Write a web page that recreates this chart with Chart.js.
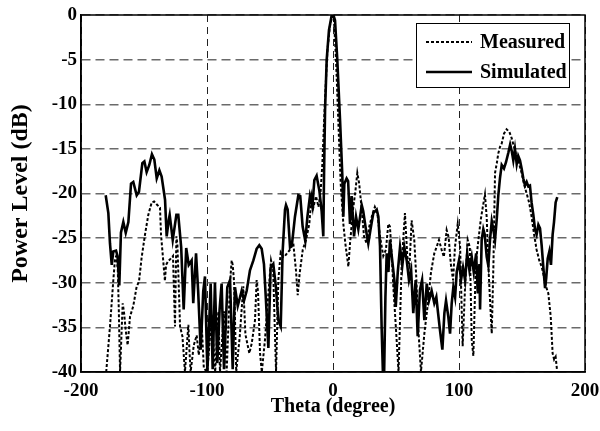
<!DOCTYPE html>
<html lang="en">
<head>
<meta charset="utf-8">
<title>Radiation pattern</title>
<script src="https://cdn.jsdelivr.net/npm/chart.js@4.4.0/dist/chart.umd.min.js"></script>
<style>
    html, body { margin: 0; padding: 0; background: #fff; }
    #chart { display: block; }
</style>
</head>
<body>
<canvas id="chart" width="600" height="431"></canvas>
<script>
// Simulated pattern (solid)
const simTheta = [
    -180.4, -178.3, -177.0, -175.6, -174.4, -172.2, -171.0, -169.6, -168.3, -166.4,
    -164.5, -162.4, -160.3, -158.5, -155.8, -154.0, -151.3, -149.7, -147.9, -145.8,
    -143.7, -141.8, -139.9, -137.8, -136.0, -133.3, -132.0, -130.4, -129.6, -127.2,
    -124.3, -122.8, -120.5, -118.5, -116.5, -114.5, -112.2, -110.9, -108.7, -107.0,
    -105.0, -103.0, -101.6, -99.7, -97.1, -95.5, -93.7, -91.8, -90.0, -88.4,
    -86.5, -83.9, -81.7, -79.6, -77.8, -75.6, -72.5, -70.6, -68.5, -65.9,
    -63.2, -60.6, -58.5, -56.6, -54.8, -53.2, -51.3, -49.5, -47.4, -45.3,
    -43.4, -41.5, -40.0, -38.1, -37.3, -36.0, -34.1, -32.5, -30.2, -27.5,
    -26.0, -24.1, -22.0, -20.3, -18.3, -16.4, -14.8, -13.0, -10.8, -9.0,
    -7.7, -7.1, -6.3, -5.0, -3.2, -1.0, 0.3, 1.6, 3.4, 5.6,
    7.4, 8.2, 9.0, 10.8, 12.0, 13.5, 14.8, 16.7, 18.3, 20.1,
    22.8, 24.0, 26.2, 28.0, 29.8, 32.0, 34.7, 36.0, 37.3, 38.6,
    39.6, 40.6, 41.6, 42.6, 44.0, 45.2, 47.0, 48.7, 49.8, 51.4,
    53.2, 55.0, 56.6, 58.5, 60.3, 62.0, 63.7, 65.6, 67.2, 69.0,
    70.7, 72.5, 74.4, 76.2, 78.3, 80.4, 82.0, 83.4, 84.9, 86.8,
    88.4, 89.7, 91.5, 92.9, 94.2, 95.5, 96.9, 98.2, 100.0, 101.6,
    103.2, 104.8, 106.5, 108.3, 110.1, 111.7, 113.6, 114.9, 116.2, 116.7,
    118.0, 119.3, 120.4, 122.0, 123.3, 124.6, 126.0, 127.3, 128.6, 130.0,
    131.2, 132.5, 133.9, 135.7, 137.3, 139.2, 140.6, 141.8, 143.1, 144.4,
    145.8, 147.0, 148.4, 149.7, 151.0, 152.4, 153.7, 155.0, 156.3, 157.6,
    159.0, 160.3, 161.6, 163.0, 164.3, 165.6, 167.0, 168.3, 169.2, 170.4,
    171.7, 173.0, 174.3, 175.4, 176.7, 178.0
];
const simDb = [
    -20.2, -22.2, -25.6, -28.0, -26.5, -26.4, -27.0, -30.3, -24.4, -23.2,
    -24.4, -23.2, -18.9, -18.7, -20.2, -19.8, -16.6, -16.4, -17.6, -16.8,
    -15.6, -16.2, -18.3, -17.4, -18.1, -20.7, -24.8, -23.0, -22.4, -25.2,
    -22.4, -22.4, -26.0, -33.0, -26.1, -28.0, -27.5, -32.3, -26.7, -31.0,
    -37.5, -31.0, -29.3, -40.0, -30.1, -39.7, -30.0, -39.0, -33.0, -30.1,
    -39.7, -30.5, -29.7, -39.7, -30.5, -32.6, -30.9, -32.0, -30.9, -28.6,
    -27.5, -26.2, -25.8, -26.2, -27.9, -32.0, -37.3, -28.3, -27.9, -30.5,
    -34.2, -34.9, -26.6, -21.8, -21.3, -21.8, -26.0, -25.6, -22.6, -20.2,
    -20.3, -23.7, -25.3, -22.6, -20.3, -21.5, -18.5, -18.0, -19.7, -22.0,
    -24.8, -17.8, -10.6, -5.0, -1.7, 0.0, 0.0, -0.6, -5.0, -11.8,
    -18.0, -22.6, -18.9, -18.3, -18.6, -23.4, -20.3, -24.8, -22.6, -24.0,
    -21.3, -22.0, -24.1, -25.6, -24.0, -22.2, -21.8, -22.6, -25.9, -35.0,
    -40.0, -40.0, -31.6, -26.7, -28.8, -25.2, -27.5, -29.7, -32.7, -28.8,
    -26.0, -28.1, -26.0, -27.5, -29.7, -28.6, -33.4, -29.7, -36.0, -30.8,
    -29.7, -34.2, -30.1, -32.0, -30.9, -32.3, -31.6, -33.4, -35.3, -37.5,
    -33.4, -32.0, -33.8, -35.7, -32.3, -30.5, -31.6, -28.8, -27.5, -29.7,
    -28.3, -29.7, -26.7, -28.6, -27.1, -28.8, -26.7, -31.2, -27.9, -33.0,
    -25.2, -24.0, -24.6, -27.1, -28.1, -25.2, -23.1, -24.1, -25.2, -22.8,
    -20.2, -18.3, -16.8, -17.2, -16.5, -15.4, -14.5, -15.2, -16.3, -15.0,
    -16.7, -15.8, -16.3, -17.2, -18.3, -19.1, -18.7, -19.2, -19.1, -21.0,
    -22.4, -24.0, -24.6, -23.5, -23.9, -25.8, -28.4, -30.6, -29.5, -27.3,
    -26.5, -28.0, -24.6, -23.2, -21.0, -20.4
];

// Measured pattern (dotted)
const measTheta = [
    -180.0, -177.0, -174.4, -173.0, -172.0, -170.8, -170.0, -169.0, -166.9, -165.8,
    -164.6, -163.0, -161.1, -158.5, -155.8, -154.0, -151.9, -149.2, -146.6, -143.9,
    -142.0, -140.0, -137.3, -136.5, -134.7, -133.4, -132.5, -130.9, -128.8, -127.0,
    -125.4, -124.3, -123.5, -122.5, -121.4, -119.5, -117.5, -114.8, -114.0, -113.0,
    -110.5, -108.2, -106.5, -104.2, -102.5, -99.8, -96.3, -93.5, -91.0, -89.7,
    -86.5, -84.4, -81.7, -80.4, -79.6, -78.5, -76.8, -74.0, -71.2, -69.5,
    -66.4, -64.5, -61.9, -60.6, -59.5, -57.9, -56.5, -54.0, -51.3, -49.2,
    -47.5, -45.2, -43.4, -41.5, -39.4, -38.1, -36.5, -34.1, -31.5, -29.4,
    -28.0, -26.5, -24.0, -21.4, -18.8, -17.0, -15.5, -13.5, -11.5, -9.8,
    -8.5, -6.5, -4.5, -2.4, -0.6, 0.8, 2.4, 4.2, 6.1, 8.2,
    9.8, 12.2, 13.5, 15.9, 17.8, 19.3, 20.8, 22.8, 24.6, 26.7,
    28.8, 31.5, 33.2, 35.2, 37.3, 39.9, 42.0, 43.9, 45.2, 47.0,
    47.9, 49.2, 50.5, 52.0, 54.5, 57.1, 59.0, 60.7, 62.4, 64.5,
    66.2, 67.5, 69.8, 72.5, 75.0, 77.8, 80.4, 82.2, 84.1, 86.2,
    88.0, 90.2, 91.8, 93.5, 95.3, 96.8, 99.0, 100.9, 102.2, 102.9,
    104.8, 106.9, 108.6, 110.1, 111.4, 113.3, 115.4, 117.2, 118.9, 120.6,
    122.0, 123.3, 124.6, 126.0, 127.3, 128.6, 130.0, 131.2, 132.5, 133.9,
    135.7, 137.8, 140.0, 141.8, 143.7, 145.8, 147.6, 149.7, 151.5, 153.7,
    155.8, 157.6, 159.5, 161.6, 163.7, 165.6, 167.4, 169.0, 170.9, 172.8,
    174.3, 175.5, 176.7, 177.8
];
const measDb = [
    -40.0, -34.9, -29.8, -27.3, -27.0, -28.5, -33.0, -40.0, -32.3, -33.4,
    -35.2, -37.0, -33.8, -32.6, -30.4, -29.9, -27.2, -24.6, -22.4, -21.0,
    -20.9, -21.2, -21.6, -24.6, -27.6, -29.8, -28.0, -27.6, -27.3, -27.0,
    -34.9, -24.8, -25.7, -30.0, -34.9, -36.0, -40.0, -34.7, -37.4, -40.0,
    -37.0, -35.9, -38.1, -34.7, -39.6, -40.0, -33.6, -40.0, -33.2, -40.0,
    -33.2, -40.0, -29.9, -27.5, -28.0, -29.9, -40.0, -36.0, -30.4, -35.8,
    -37.9, -36.8, -34.2, -29.7, -31.0, -37.9, -40.0, -36.4, -31.2, -27.5,
    -28.6, -40.0, -29.7, -26.6, -27.1, -27.0, -26.7, -26.3, -25.6, -28.6,
    -31.4, -29.0, -26.3, -25.2, -23.4, -20.3, -21.5, -20.3, -21.5, -19.7,
    -16.8, -10.0, -4.1, -1.2, -0.1, -0.6, -5.0, -11.8, -18.9, -23.4,
    -25.6, -28.2, -25.6, -21.8, -19.7, -17.7, -18.9, -21.8, -24.8, -25.6,
    -23.7, -22.2, -21.5, -22.2, -24.8, -27.0, -26.3, -23.4, -23.7, -28.0,
    -30.5, -33.4, -36.4, -40.0, -27.9, -22.2, -27.1, -28.1, -23.0, -25.2,
    -29.7, -34.6, -40.0, -35.7, -32.7, -28.8, -26.7, -26.0, -25.2, -26.3,
    -27.1, -24.1, -24.9, -27.9, -29.7, -26.0, -23.4, -26.0, -33.4, -37.1,
    -30.5, -25.2, -26.0, -36.4, -38.2, -27.9, -25.2, -23.0, -21.5, -20.1,
    -22.7, -28.1, -31.9, -35.7, -28.1, -17.7, -16.6, -15.5, -14.8, -14.4,
    -13.3, -12.8, -13.1, -13.8, -14.8, -15.9, -16.6, -17.7, -18.9, -20.0,
    -21.1, -22.6, -24.5, -26.3, -27.5, -28.2, -29.3, -30.4, -31.2, -33.8,
    -37.9, -38.6, -38.3, -39.8
];

const xTicks = [-200, -100, 0, 100, 200];
const yTicks = [-40, -35, -30, -25, -20, -15, -10, -5, 0];

const FONT = { family: '"Liberation Serif", "Times New Roman", serif', size: 19, weight: 'bold' };

function toPoints(xs, ys) {
    return xs.map((x, i) => ({ x: x, y: ys[i] }));
}

// frame around the plot area plus the boxed legend in the top right corner
const framePlugin = {
    id: 'frame',
    afterDraw(chart) {
        const { ctx, chartArea: a } = chart;
        ctx.save();
        ctx.strokeStyle = '#000';
        ctx.lineWidth = 1.5;
        ctx.setLineDash([]);
        ctx.strokeRect(a.left, a.top, a.right - a.left, a.bottom - a.top);

        // legend box
        const bx = a.right - 169, by = a.top + 8, bw = 153, bh = 64;
        ctx.fillStyle = '#fff';
        ctx.fillRect(bx, by, bw, bh);
        ctx.lineWidth = 1;
        ctx.strokeRect(bx + 0.5, by + 0.5, bw, bh);

        ctx.font = 'bold 20px "Liberation Serif", "Times New Roman", serif';
        ctx.textBaseline = 'middle';
        ctx.textAlign = 'left';
        ctx.fillStyle = '#000';
        chart.data.datasets.forEach((ds, i) => {
            const y = by + 19 + i * 30;
            ctx.beginPath();
            ctx.lineWidth = ds.borderWidth;
            ctx.setLineDash(ds.borderDash || []);
            ctx.moveTo(bx + 10, y);
            ctx.lineTo(bx + 56, y);
            ctx.stroke();
            ctx.setLineDash([]);
            ctx.fillText(ds.label, bx + 64, y + 1);
        });
        ctx.restore();
    }
};

new Chart(document.getElementById('chart'), {
    type: 'line',
    data: {
        datasets: [
            {
                label: 'Measured',
                data: toPoints(measTheta, measDb),
                borderColor: '#000',
                borderWidth: 2,
                borderDash: [3, 2],
                pointRadius: 0,
                tension: 0,
                fill: false
            },
            {
                label: 'Simulated',
                data: toPoints(simTheta, simDb),
                borderColor: '#000',
                borderWidth: 2.6,
                pointRadius: 0,
                tension: 0,
                fill: false
            }
        ]
    },
    options: {
        responsive: false,
        animation: false,
        layout: { padding: { left: 0, right: 15, top: 15, bottom: 0 } },
        plugins: {
            legend: { display: false },
            tooltip: { enabled: false }
        },
        scales: {
            x: {
                type: 'linear',
                min: -200,
                max: 200,
                afterBuildTicks: (scale) => { scale.ticks = xTicks.map(v => ({ value: v })); },
                afterFit: (scale) => {
                    scale.height = 59;
                    // keep the plot box at a fixed size, labels may overhang
                    scale.paddingLeft = 0;
                    scale.paddingRight = 0;
                },
                ticks: { color: '#000', font: FONT, padding: 8, maxRotation: 0 },
                grid: { color: '#222', lineWidth: 1, drawTicks: false },
                border: { display: true, color: '#000', width: 1.5, dash: [7, 5] },
                title: { display: true, text: 'Theta (degree)', color: '#000', font: { ...FONT, size: 20 }, padding: { top: 0, bottom: 12 } }
            },
            y: {
                min: -40,
                max: 0,
                afterBuildTicks: (scale) => { scale.ticks = yTicks.map(v => ({ value: v })); },
                afterFit: (scale) => {
                    scale.width = 81;
                    scale.paddingTop = 0;
                    scale.paddingBottom = 0;
                },
                ticks: { color: '#000', font: FONT, padding: 4 },
                grid: { color: '#6a6a6a', lineWidth: 1.5, drawTicks: false },
                border: { display: true, color: '#000', width: 1.5, dash: [9, 5] },
                title: { display: true, text: 'Power Level (dB)', color: '#000', font: { ...FONT, size: 24 }, padding: { top: 6, bottom: 0 } }
            }
        }
    },
    plugins: [framePlugin]
});
</script>
</body>
</html>
